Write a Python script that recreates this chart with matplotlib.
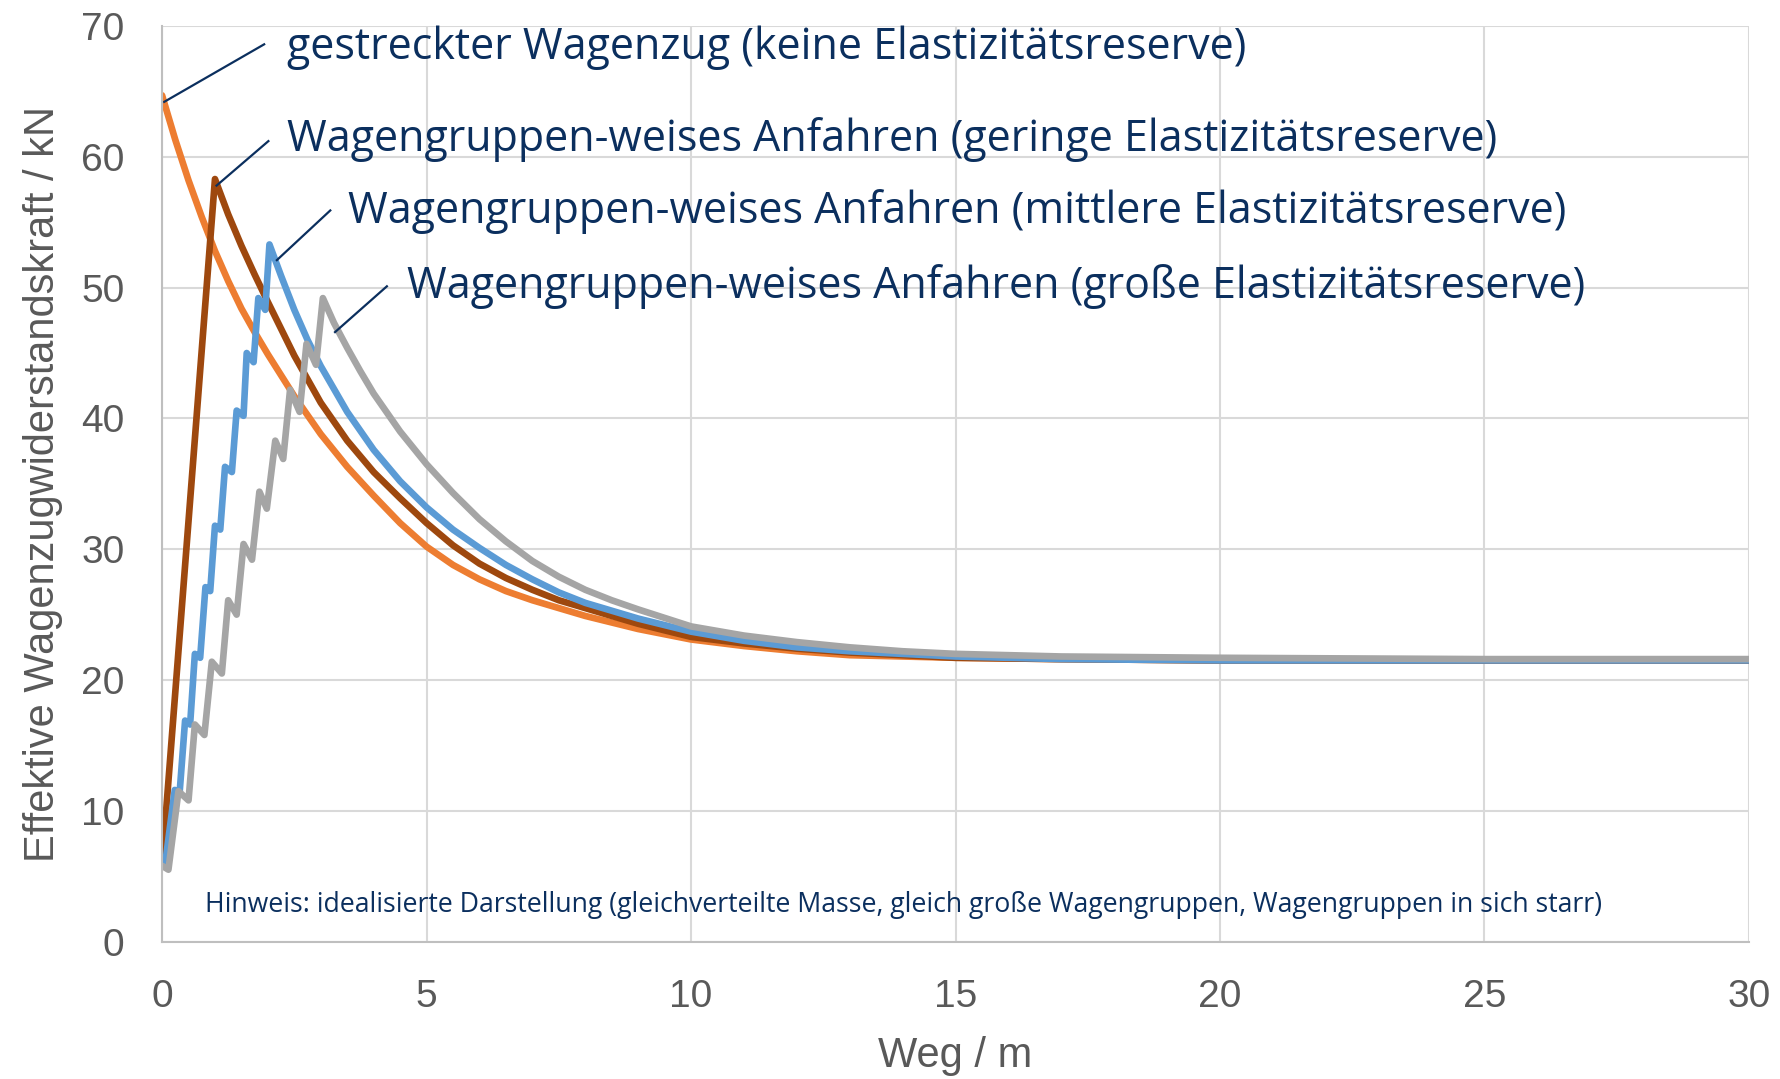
import matplotlib

matplotlib.use("Agg")
import matplotlib.pyplot as plt

# gestreckter Wagenzug (keine Elastizitätsreserve)
orange_x = [0, 0.25, 0.5, 0.75, 1.0, 1.25, 1.5, 1.75, 2.0, 2.5, 3.0, 3.5, 4.0, 4.5, 5.0,
            5.5, 6.0, 6.5, 7.0, 7.5, 8.0, 8.5, 9.0, 10, 11, 12, 13, 14, 15, 17, 20, 25, 30]
orange_y = [64.7, 61.3, 58.2, 55.4, 52.8, 50.5, 48.4, 46.6, 44.9, 41.7, 38.8, 36.3, 34.1, 32.0, 30.2,
            28.8, 27.7, 26.8, 26.1, 25.5, 24.9, 24.4, 23.9, 23.1, 22.6, 22.2, 21.9, 21.8, 21.7, 21.6, 21.5, 21.5, 21.5]

# geringe Elastizitätsreserve
brown_x = [0, 1.0, 1.25, 1.5, 1.75, 2.0, 2.5, 3.0, 3.5, 4.0, 4.5, 5.0, 5.5, 6.0, 6.5, 7.0,
           7.5, 8.0, 9.0, 10, 11, 12, 13, 14, 15, 17, 20, 25, 30]
brown_y = [6.0, 58.3, 55.6, 53.2, 51.0, 48.9, 44.8, 41.2, 38.3, 35.9, 33.9, 32.0, 30.3, 28.9, 27.8, 26.9,
           26.1, 25.5, 24.3, 23.3, 22.8, 22.4, 22.1, 21.9, 21.7, 21.6, 21.5, 21.5, 21.5]

# mittlere Elastizitätsreserve
blue_x = [0.06, 0.24, 0.33, 0.435, 0.53, 0.62, 0.72, 0.82, 0.91, 1.0, 1.1, 1.19, 1.32, 1.41, 1.54,
          1.6, 1.73, 1.82, 1.95, 2.03, 2.25, 2.5, 2.75, 3.0, 3.5, 4.0, 4.5, 5.0, 5.5, 6.0, 6.5,
          7.0, 7.5, 8.0, 9.0, 10, 11, 12, 13, 14, 15, 17, 20, 25, 30]
blue_y = [6.0, 11.6, 11.3, 16.9, 16.6, 22.0, 21.7, 27.1, 26.8, 31.8, 31.5, 36.3, 35.9, 40.6, 40.2,
          45.0, 44.3, 49.2, 48.3, 53.3, 50.9, 48.3, 46.0, 44.0, 40.5, 37.6, 35.2, 33.2, 31.5, 30.1, 28.8,
          27.7, 26.7, 25.9, 24.7, 23.7, 23.0, 22.5, 22.2, 22.0, 21.8, 21.6, 21.5, 21.5, 21.5]

# große Elastizitätsreserve
gray_x = [0, 0.12, 0.31, 0.5, 0.62, 0.80, 0.94, 1.13, 1.25, 1.41, 1.54, 1.70, 1.84, 1.98, 2.14,
          2.29, 2.42, 2.60, 2.73, 2.91, 3.04, 3.25, 3.5, 3.75, 4.0, 4.5, 5.0, 5.5, 6.0, 6.5, 7.0,
          7.5, 8.0, 8.5, 9.0, 10, 11, 12, 13, 14, 15, 17, 20, 25, 30]
gray_y = [5.8, 5.5, 11.5, 10.8, 16.6, 15.8, 21.4, 20.5, 26.1, 25.0, 30.4, 29.2, 34.4, 33.1, 38.3,
          36.9, 42.2, 40.5, 45.7, 44.1, 49.2, 47.3, 45.4, 43.6, 41.9, 39.0, 36.5, 34.3, 32.3, 30.6, 29.1,
          27.9, 26.9, 26.1, 25.4, 24.1, 23.4, 22.9, 22.5, 22.2, 22.0, 21.8, 21.7, 21.6, 21.6]

labels = [
    "gestreckter Wagenzug (keine Elastizitätsreserve)",
    "Wagengruppen-weises Anfahren (geringe Elastizitätsreserve)",
    "Wagengruppen-weises Anfahren (mittlere Elastizitätsreserve)",
    "Wagengruppen-weises Anfahren (große Elastizitätsreserve)",
]
note = "Hinweis: idealisierte Darstellung (gleichverteilte Masse, gleich große Wagengruppen, Wagengruppen in sich starr)"

TXT = "#0B2F5E"
AX = "#595959"


def main():
    fig = plt.figure(figsize=(17.81, 10.79), dpi=100)
    ax = fig.add_axes([0.091, 0.1273, 0.891, 0.8486])

    series = [(orange_x, orange_y, "#ED7D31"), (brown_x, brown_y, "#9E480E"),
              (blue_x, blue_y, "#5B9BD5"), (gray_x, gray_y, "#A5A5A5")]
    for xs, ys, c in series:
        ax.plot(xs, ys, color=c, lw=4.8, solid_capstyle="round", solid_joinstyle="round")

    ax.set_xlim(0, 30)
    ax.set_ylim(0, 70)
    ax.set_xticks(range(0, 31, 5))
    ax.set_yticks(range(0, 71, 10))
    ax.grid(True, color="#D9D9D9", lw=1.5)
    ax.set_axisbelow(True)
    for s in ["top", "right"]:
        ax.spines[s].set_visible(False)
    for s in ["left", "bottom"]:
        ax.spines[s].set_color("#BFBFBF")
        ax.spines[s].set_linewidth(1.5)
    ax.tick_params(length=0, labelsize=28, labelcolor=AX, pad=27)
    for lab in ax.get_xticklabels() + ax.get_yticklabels():
        lab.set_family("Liberation Sans")
    ax.set_xlabel("Weg / m", fontsize=30, color=AX, family="Liberation Sans", labelpad=15)
    ax.set_ylabel("Effektive Wagenzugwiderstandskraft / kN", fontsize=30, color=AX,
                  family="Liberation Sans", labelpad=13)

    # Beschriftungen mit Hinweislinien
    tips = [(0.04, 64.2), (1.03, 57.8), (2.17, 52.1), (3.27, 46.6)]
    ends = [(1.93, 68.6), (2.01, 61.2), (3.18, 55.9), (4.25, 50.1)]
    pos = [(2.36, 68.3), (2.36, 61.3), (3.52, 55.8), (4.63, 50.1)]
    for lab, tip, end, p in zip(labels, tips, ends, pos):
        ax.plot([tip[0], end[0]], [tip[1], end[1]], color=TXT, lw=1.6)
        ax.text(p[0], p[1], lab, fontsize=31, color=TXT, family="Open Sans",
                ha="left", va="center")

    ax.text(0.82, 2.8, note, fontsize=19.2, color=TXT, family="Open Sans",
            ha="left", va="center")

    fig.savefig("out.png", dpi=100)


if __name__ == "__main__":
    main()
